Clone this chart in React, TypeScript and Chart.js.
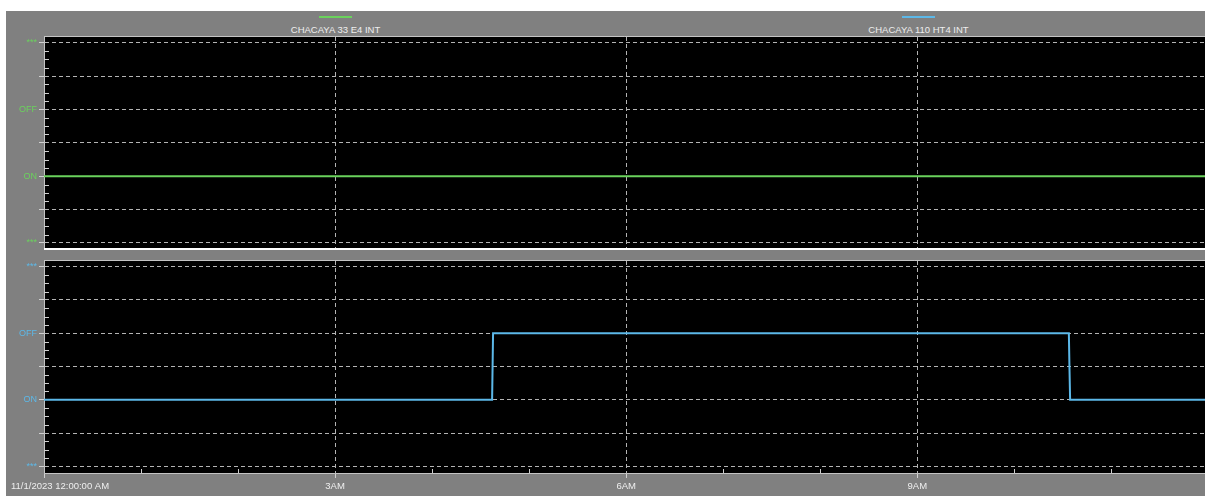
import React, { useEffect, useRef } from 'react';
import { Chart, registerables } from 'chart.js';

Chart.register(...registerables);

// ---------- data ----------
const SERIES_A_NAME = 'CHACAYA 33 E4 INT';
const SERIES_B_NAME = 'CHACAYA 110 HT4 INT';
const SERIES_A_HOURS = [0, 11.965];
const SERIES_A_STATE = [0, 0];
const SERIES_B_HOURS = [0, 4.618, 4.628, 10.562, 10.568, 10.575, 11.965];
const SERIES_B_STATE = [0, 0, 1, 1, 0.5, 0, 0];
const Y_TICK_VALUES = [-1, -0.5, 0, 0.5, 1, 1.5, 2];
const Y_TICK_LABELS = ['***', '', 'ON', '', 'OFF', '', '***'];
const X_TICK_HOURS = [0, 3, 6, 9];
const X_TICK_LABELS = ['', '3AM', '6AM', '9AM'];
const X_MINOR_HOURS = [1, 2, 4, 5, 7, 8, 10, 11];
const X_START_LABEL = '11/1/2023 12:00:00 AM';
const X_MIN = 0;
const X_MAX = 11.965;
const Y_MINOR_STEP = 0.125;

// ---------- styling ----------
const GREEN = '#6ad25c';
const BLUE = '#5cb8e8';
const GRID = '#b4b4b4';
const TEXT = '#eeeeee';
const FONT_FAMILY = 'Arial, "Liberation Sans", sans-serif';

const panelFrame = {
  id: 'panelFrame',
  beforeDraw(chart: any) {
    const { ctx, chartArea: a } = chart;
    ctx.save();
    ctx.fillStyle = '#000000';
    ctx.fillRect(a.left, a.top, a.right - a.left, a.bottom - a.top);
    ctx.restore();
  },
  beforeDatasetsDraw(chart: any, _args: any, opts: any) {
    const { ctx, chartArea: a } = chart;
    const ys = chart.scales.y;
    const xs = chart.scales.x;
    ctx.save();
    ctx.strokeStyle = '#d0d0d0';
    ctx.lineWidth = 1;
    ctx.beginPath();
    const lo = Y_TICK_VALUES[0];
    const hi = Y_TICK_VALUES[Y_TICK_VALUES.length - 1];
    for (let v = lo; v <= hi + 1e-9; v += Y_MINOR_STEP) {
      if (Y_TICK_VALUES.some((t) => Math.abs(t - v) < 1e-6)) continue;
      const py = Math.round(ys.getPixelForValue(v)) + 0.5;
      ctx.moveTo(a.left, py);
      ctx.lineTo(a.left + 5, py);
    }
    if (opts.xMinor) {
      for (const h of X_MINOR_HOURS) {
        const px = Math.round(xs.getPixelForValue(h)) + 0.5;
        ctx.moveTo(px, a.bottom);
        ctx.lineTo(px, a.bottom - 4);
      }
    }
    ctx.stroke();
    ctx.restore();
  },
  afterDraw(chart: any, _args: any, opts: any) {
    const { ctx, chartArea: a } = chart;
    ctx.save();
    ctx.strokeStyle = '#c4c4c4';
    ctx.lineWidth = 1;
    ctx.beginPath();
    ctx.moveTo(a.left, a.top - 0.5);
    ctx.lineTo(a.right, a.top - 0.5);
    ctx.stroke();
    ctx.strokeStyle = opts.bottomColor;
    ctx.lineWidth = opts.bottomWidth;
    ctx.beginPath();
    ctx.moveTo(a.left, a.bottom + opts.bottomWidth / 2);
    ctx.lineTo(a.right, a.bottom + opts.bottomWidth / 2);
    ctx.stroke();
    if (opts.startLabel) {
      const xs = chart.scales.x;
      ctx.fillStyle = TEXT;
      ctx.font = `9.5px ${FONT_FAMILY}`;
      ctx.textAlign = 'left';
      ctx.textBaseline = 'middle';
      ctx.fillText(X_START_LABEL, 5, xs.top + 13.5);
    }
    ctx.restore();
  },
};

function buildPanel(
  canvas: HTMLCanvasElement,
  hours: number[],
  states: number[],
  color: string,
  yMin: number,
  yMax: number,
  padTop: number,
  padBottom: number,
  showX: boolean
) {
  return new Chart(canvas, {
    type: 'line',
    data: {
      datasets: [
        {
          data: hours.map((h, i) => ({ x: h, y: states[i] })),
          borderColor: color,
          borderWidth: 2,
          pointRadius: 0,
          tension: 0,
          fill: false,
        },
      ],
    },
    plugins: [panelFrame],
    options: {
      animation: false,
      responsive: false,
      devicePixelRatio: 1,
      layout: { padding: { top: padTop, bottom: padBottom, left: 0, right: 0 } },
      plugins: {
        legend: { display: false },
        tooltip: { enabled: false },
        panelFrame: {
          bottomColor: showX ? '#c4c4c4' : '#ffffff',
          bottomWidth: showX ? 1 : 2,
          xMinor: showX,
          startLabel: showX,
        },
      } as any,
      scales: {
        x: {
          type: 'linear',
          min: X_MIN,
          max: X_MAX,
          afterBuildTicks: (s: any) => {
            s.ticks = X_TICK_HOURS.map((v) => ({ value: v }));
          },
          afterFit: (s: any) => {
            s.height = showX ? 23 : 0;
          },
          ticks: {
            display: showX,
            autoSkip: false,
            maxRotation: 0,
            padding: 3,
            color: TEXT,
            font: { family: FONT_FAMILY, size: 9.5 },
            callback: (v: any) => {
              const i = X_TICK_HOURS.indexOf(Number(v));
              return i >= 0 ? X_TICK_LABELS[i] : '';
            },
          },
          grid: {
            color: GRID,
            lineWidth: 1,
            drawTicks: showX,
            tickLength: 5,
            tickColor: '#d0d0d0',
          },
          border: { display: false, dash: [4, 3] },
        },
        y: {
          type: 'linear',
          min: yMin,
          max: yMax,
          afterBuildTicks: (s: any) => {
            s.ticks = Y_TICK_VALUES.map((v) => ({ value: v }));
          },
          afterFit: (s: any) => {
            s.width = 38;
          },
          ticks: {
            autoSkip: false,
            padding: 2,
            color: color,
            font: { family: FONT_FAMILY, size: 9 },
            callback: (v: any) => {
              const i = Y_TICK_VALUES.indexOf(Number(v));
              return i >= 0 ? Y_TICK_LABELS[i] : '';
            },
          },
          grid: {
            color: GRID,
            lineWidth: 1,
            drawTicks: true,
            tickLength: 5,
            tickColor: '#d0d0d0',
          },
          border: { display: true, color: '#c4c4c4', width: 1, dash: [4, 3] },
        },
      },
    } as any,
  });
}

export default function App() {
  const topRef = useRef<HTMLCanvasElement>(null);
  const botRef = useRef<HTMLCanvasElement>(null);

  useEffect(() => {
    const c1 = buildPanel(topRef.current!, SERIES_A_HOURS, SERIES_A_STATE, GREEN, -1.075, 2.085, 8, 8, false);
    const c2 = buildPanel(botRef.current!, SERIES_B_HOURS, SERIES_B_STATE, BLUE, -1.1, 2.085, 8, 0, true);
    return () => {
      c1.destroy();
      c2.destroy();
    };
  }, []);

  const legendItem = (name: string, color: string, cx: number) => (
    <div
      style={{
        position: 'absolute',
        left: cx - 150,
        top: 0,
        width: 300,
        textAlign: 'center',
      }}
    >
      <div
        style={{
          position: 'absolute',
          left: 150 - 16.5,
          top: 5,
          width: 33,
          height: 2,
          background: color,
        }}
      />
      <div
        style={{
          position: 'absolute',
          left: 0,
          top: 13,
          width: 300,
          textAlign: 'center',
          font: `9.5px ${FONT_FAMILY}`,
          lineHeight: '11px',
          color: TEXT,
          whiteSpace: 'nowrap',
        }}
      >
        {name}
      </div>
    </div>
  );

  return (
    <div
      style={{
        position: 'absolute',
        left: 6,
        top: 11,
        width: 1199,
        height: 485,
        background: '#808080',
        overflow: 'hidden',
      }}
    >
      {legendItem(SERIES_A_NAME, GREEN, 329.5)}
      {legendItem(SERIES_B_NAME, BLUE, 912.5)}
      <canvas
        ref={topRef}
        width={1199}
        height={227}
        style={{ position: 'absolute', left: 0, top: 18, width: 1199, height: 227 }}
      />
      <canvas
        ref={botRef}
        width={1199}
        height={243}
        style={{ position: 'absolute', left: 0, top: 242, width: 1199, height: 243 }}
      />
    </div>
  );
}
